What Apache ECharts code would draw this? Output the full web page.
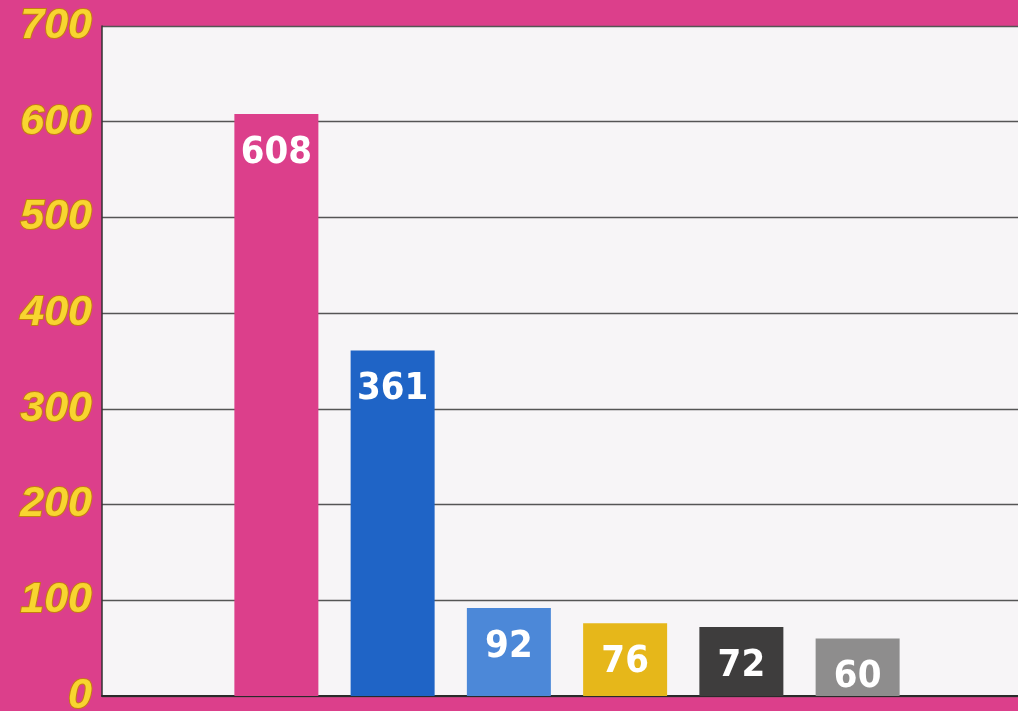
<!DOCTYPE html>
<html><head><meta charset="utf-8">
<script src="https://cdn.jsdelivr.net/npm/echarts@6/dist/echarts.min.js"></script>
<style>html,body{margin:0;padding:0;background:#dc3f8b;}#c{width:1018px;height:711px;}</style>
</head><body><div id="c"></div>
<script>
const categories = ['', 'A', 'B', 'C', 'D', 'E', 'F', ''];
const values = [null, 608, 361, 92, 76, 72, 60, null];
const barColors = [null, '#dc3f8b', '#1f64c6', '#4c88d8', '#e6b71a', '#3e3d3d', '#8e8d8d', null];
const yTicks = [0, 100, 200, 300, 400, 500, 600, 700];

const chart = echarts.init(document.getElementById('c'));
chart.setOption({
  backgroundColor: '#dc3f8b',
  animation: false,
  grid: { left: 102, right: -14, top: 26, bottom: 15, show: true, backgroundColor: '#f7f5f7', borderWidth: 0, outerBoundsMode: 'none', containLabel: false },
  xAxis: {
    type: 'category', data: categories,
    axisLine: { show: true, lineStyle: { color: '#2a2a2a', width: 2 } },
    axisTick: { show: false }, axisLabel: { show: false }
  },
  yAxis: {
    type: 'value', min: yTicks[0], max: yTicks[yTicks.length - 1], interval: 100,
    axisLine: { show: true, lineStyle: { color: '#333', width: 1.5 } },
    axisTick: { show: false },
    splitLine: { show: true, lineStyle: { color: '#555', width: 1.3 } },
    axisLabel: {
      margin: 10,
      fontFamily: "'Liberation Sans', Arial, sans-serif",
      fontStyle: 'italic', fontWeight: 'bold', fontSize: 43,
      color: '#f8d530', textBorderColor: '#c47c12', textBorderWidth: 2,
      verticalAlign: 'middle', padding: [0, 0, 8, 0]
    }
  },
  series: [{
    type: 'bar', barWidth: 84,
    data: values.map((v, i) => v == null ? null : { value: v, itemStyle: { color: barColors[i] } }),
    label: {
      show: true, position: 'insideTop', distance: 20,
      color: '#ffffff', fontSize: 38, fontWeight: 'bold',
      fontFamily: "'DejaVu Sans Condensed', 'Liberation Sans Narrow', 'Noto Sans', sans-serif"
    }
  }]
});
</script></body></html>
